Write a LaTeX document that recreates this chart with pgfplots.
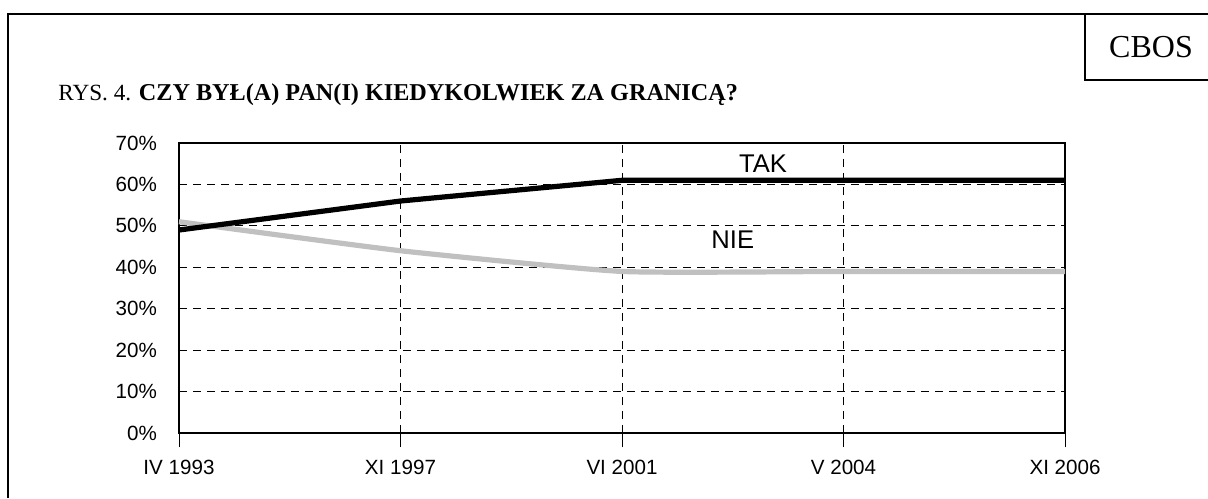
\documentclass[border=0pt]{standalone}
\usepackage{pgfplots}
\pgfplotsset{compat=1.18}
\usepackage{fontspec}
\setmainfont{Liberation Serif}
\newfontfamily\arial{Liberation Sans}
\definecolor{niegray}{RGB}{192,192,192}
\begin{document}
\begin{tikzpicture}
\useasboundingbox (0,0) rectangle (604pt,-249pt);
\draw[line width=1pt] (4pt,-249pt) -- (4pt,-7pt) -- (606pt,-7pt);
\draw[line width=1pt] (542.5pt,-7pt) -- (542.5pt,-40pt) -- (606pt,-40pt);
\node[anchor=center,font=\fontsize{16}{18}\selectfont] at (575.5pt,-23.5pt) {CBOS};
\node[anchor=base west,inner sep=0pt,font=\fontsize{11.6}{13}\selectfont] at (29pt,-50pt) {RYS. 4. \textbf{\fontsize{12.1}{13}\selectfont CZY BYŁ(A) PAN(I) KIEDYKOLWIEK ZA GRANICĄ?}};
\begin{axis}[
  at={(89.5pt,-216.5pt)}, anchor=south west,
  scale only axis, width=443pt, height=145pt,
  xmin=0, xmax=4, ymin=0, ymax=70,
  xtick={0,1,2,3,4},
  xticklabels={IV 1993,XI 1997,VI 2001,V 2004,XI 2006},
  ytick={0,10,20,30,40,50,60,70},
  yticklabels={0\%,10\%,20\%,30\%,40\%,50\%,60\%,70\%},
  ticklabel style={font=\arial\fontsize{10.3}{12}\selectfont},
  grid=major,
  major grid style={black, line width=0.4pt, dash pattern=on 4pt off 3pt},
  axis line style={line width=0.7pt},
  major tick length=7pt,
  x tick style={black, line width=0.5pt},
  xtick pos=bottom, tick align=outside,
  y tick style={draw=none},
  yticklabel style={xshift=-0.5pt},
  xticklabel style={yshift=-3pt},
  clip=false,
]
\addplot[niegray, line width=2.6pt, smooth, tension=0.3] coordinates {(0,51) (1,44) (2,39) (3,39) (4,39)};
\addplot[black, line width=2.6pt] coordinates {(0,49) (1,56) (2,61) (3,61) (4,61)};
\node[font=\arial\fontsize{12.8}{14}\selectfont] at (axis cs:2.637,64.9) {TAK};
\node[font=\arial\fontsize{12.8}{14}\selectfont] at (axis cs:2.50,46.6) {NIE};
\end{axis}
\end{tikzpicture}
\end{document}
